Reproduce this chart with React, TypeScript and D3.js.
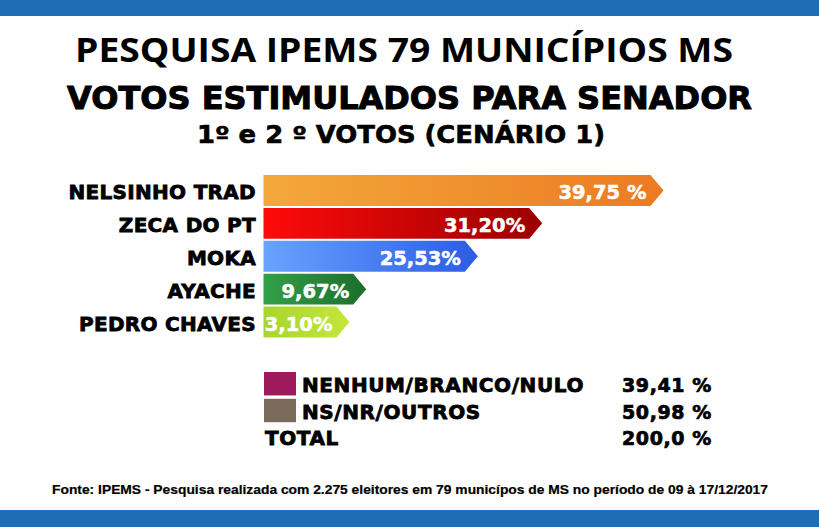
import React from "react";
import * as d3 from "d3";

const candidates = ["NELSINHO TRAD", "ZECA DO PT", "MOKA", "AYACHE", "PEDRO CHAVES"];
const values = [39.75, 31.2, 25.53, 9.67, 3.1];
const valueLabels = ["39,75 %", "31,20%", "25,53%", "9,67%", "3,10%"];
const gradStart = ["#F3A83C", "#FF0A0A", "#69A3FF", "#33A048", "#A8D62E"];
const gradEnd = ["#EC7A22", "#9A0000", "#2B5CE4", "#1B6E2C", "#C4E63C"];

const legendLabels = ["NENHUM/BRANCO/NULO", "NS/NR/OUTROS", "TOTAL"];
const legendValues = ["39,41 %", "50,98 %", "200,0 %"];
const legendColors = ["#9E1A5C", "#7B6B5C", null];

const title1 = "PESQUISA IPEMS 79 MUNICÍPIOS MS";
const title2 = "VOTOS ESTIMULADOS PARA SENADOR";
const title3 = "1º e 2 º VOTOS (CENÁRIO 1)";
const footnote =
  "Fonte: IPEMS -  Pesquisa realizada com 2.275 eleitores em 79 municípos de MS no período de 09 à 17/12/2017";

const W = 819;
const H = 527;
const BLUE = "#1F6DB3";
const BOLD = "'DejaVu Sans', sans-serif";

export default function App() {
  React.useEffect(() => {
    document.body.style.margin = "0";
  }, []);

  const barLeft = 263.5;
  const tipLen = 13;
  const x = d3.scalePow().exponent(2).domain([0, 40]).range([barLeft + 84, barLeft + 404]);
  const y = d3
    .scaleBand<string>()
    .domain(candidates)
    .range([175, 337.5])
    .paddingInner(0.06)
    .paddingOuter(0);
  const bh = y.bandwidth();

  const legendY = d3.scaleBand<string>().domain(legendLabels).range([372, 451]).paddingInner(0.05);

  return (
    <svg width={W} height={H} style={{ display: "block", background: "#fff" }}>
      <defs>
        {candidates.map((c, i) => (
          <linearGradient key={c} id={`g${i}`} x1="0" x2="1" y1="0" y2="0">
            <stop offset="0%" stopColor={gradStart[i]} />
            <stop offset="100%" stopColor={gradEnd[i]} />
          </linearGradient>
        ))}
      </defs>
      <rect x={0} y={0} width={W} height={16} fill={BLUE} />
      <rect x={0} y={510} width={W} height={H - 510} fill={BLUE} />

      <text x={75} y={62} fontFamily="'Open Sans', sans-serif" fontWeight={700} fontSize={34}
        textLength={658} lengthAdjust="spacingAndGlyphs" fill="#000">{title1}</text>
      <text x={67} y={108.5} fontFamily={BOLD} fontWeight={700} fontSize={32}
        textLength={685} lengthAdjust="spacingAndGlyphs" fill="#000" stroke="#000" strokeWidth={1}>{title2}</text>
      <text x={197} y={143} fontFamily={BOLD} fontWeight={700} fontSize={24}
        textLength={408} lengthAdjust="spacingAndGlyphs" fill="#000" stroke="#000" strokeWidth={0.6}>{title3}</text>

      {candidates.map((c, i) => {
        const y0 = y(c)!;
        const tip = x(values[i]);
        const bodyEnd = tip - tipLen;
        const path = d3.path();
        path.moveTo(barLeft, y0);
        path.lineTo(bodyEnd, y0);
        path.lineTo(tip, y0 + bh / 2);
        path.lineTo(bodyEnd, y0 + bh);
        path.lineTo(barLeft, y0 + bh);
        path.closePath();
        return (
          <g key={c}>
            <text x={256} y={y0 + bh / 2 + 8.5} textAnchor="end" fontFamily={BOLD} fontWeight={700}
              fontSize={20} letterSpacing={0.3} fill="#000" stroke="#000" strokeWidth={0.8}>{c}</text>
            <path d={path.toString()} fill={`url(#g${i})`} />
            <text x={tip - 17} y={y0 + bh / 2 + 8.5} textAnchor="end" fontFamily={BOLD} fontWeight={700}
              fontSize={19.5} fill="#fff" stroke="#fff" strokeWidth={0.5}>{valueLabels[i]}</text>
          </g>
        );
      })}

      {legendLabels.map((l, i) => {
        const y0 = legendY(l)!;
        const hb = legendY.bandwidth();
        const col = legendColors[i];
        return (
          <g key={l}>
            {col && <rect x={264} y={y0} width={32} height={hb - 2} fill={col} />}
            <text x={col ? 302 : 265} y={y0 + hb / 2 + 7} fontFamily={BOLD} fontWeight={700}
              fontSize={20} letterSpacing={0.6} fill="#000" stroke="#000" strokeWidth={0.8}>{l}</text>
            <text x={712} y={y0 + hb / 2 + 7} textAnchor="end" fontFamily={BOLD} fontWeight={700}
              fontSize={19} letterSpacing={0.6} fill="#000" stroke="#000" strokeWidth={0.7}>{legendValues[i]}</text>
          </g>
        );
      })}

      <text x={52} y={494} fontFamily="'Liberation Sans', Arial, sans-serif" fontWeight={700} fontSize={12.5}
        textLength={716} lengthAdjust="spacingAndGlyphs" fill="#000" stroke="#000" strokeWidth={0.2}>{footnote}</text>
    </svg>
  );
}
